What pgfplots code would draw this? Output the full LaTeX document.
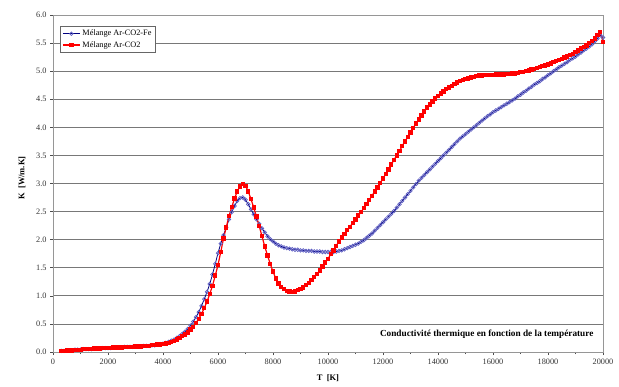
\documentclass[border=0pt]{standalone}
\usepackage{fontspec}
\setmainfont{Liberation Serif}
\usepackage{pgfplots}
\usepackage{pgfplotstable}
\pgfplotsset{compat=1.18}

\definecolor{navy}{RGB}{0,0,128}
\definecolor{markblue}{RGB}{95,95,195}
\definecolor{gridgray}{RGB}{120,120,120}
\definecolor{axgray}{RGB}{150,150,150}

% T [K], K Ar-CO2-Fe, K Ar-CO2  [W/m.K]
\pgfplotstableread{
T fe co2
300 0.02 0.02
400 0.02 0.02
500 0.03 0.03
600 0.03 0.03
700 0.03 0.03
800 0.04 0.04
900 0.04 0.04
1000 0.04 0.04
1100 0.05 0.05
1200 0.05 0.05
1300 0.05 0.05
1400 0.05 0.05
1500 0.06 0.06
1600 0.06 0.06
1700 0.06 0.06
1800 0.07 0.07
1900 0.07 0.07
2000 0.07 0.07
2100 0.07 0.07
2200 0.08 0.08
2300 0.08 0.08
2400 0.08 0.08
2500 0.08 0.08
2600 0.09 0.09
2700 0.09 0.09
2800 0.09 0.09
2900 0.09 0.09
3000 0.10 0.10
3100 0.10 0.10
3200 0.10 0.10
3300 0.11 0.11
3400 0.11 0.11
3500 0.11 0.11
3600 0.12 0.12
3700 0.12 0.12
3800 0.13 0.13
3900 0.14 0.13
4000 0.15 0.14
4100 0.16 0.15
4200 0.18 0.16
4300 0.20 0.18
4400 0.22 0.20
4500 0.25 0.22
4600 0.28 0.25
4700 0.32 0.28
4800 0.36 0.31
4900 0.41 0.35
5000 0.47 0.40
5100 0.54 0.45
5200 0.62 0.52
5300 0.71 0.59
5400 0.82 0.68
5500 0.94 0.78
5600 1.07 0.90
5700 1.21 1.03
5800 1.38 1.18
5900 1.57 1.36
6000 1.76 1.55
6100 1.93 1.78
6200 2.08 2.02
6300 2.22 2.22
6400 2.36 2.42
6500 2.49 2.58
6600 2.60 2.73
6700 2.69 2.86
6800 2.74 2.95
6900 2.75 2.99
7000 2.71 2.96
7100 2.63 2.86
7200 2.54 2.72
7300 2.45 2.57
7400 2.36 2.41
7500 2.28 2.24
7600 2.20 2.06
7700 2.13 1.88
7800 2.06 1.72
7900 2.01 1.57
8000 1.97 1.43
8100 1.93 1.31
8200 1.90 1.22
8300 1.88 1.16
8400 1.86 1.12
8500 1.85 1.09
8600 1.84 1.08
8700 1.83 1.07
8800 1.82 1.08
8900 1.82 1.10
9000 1.81 1.12
9100 1.81 1.15
9200 1.80 1.19
9300 1.80 1.23
9400 1.80 1.28
9500 1.79 1.33
9600 1.79 1.39
9700 1.79 1.45
9800 1.78 1.52
9900 1.78 1.59
10000 1.78 1.66
10100 1.78 1.74
10200 1.78 1.81
10300 1.79 1.89
10400 1.80 1.97
10500 1.81 2.04
10600 1.83 2.10
10700 1.85 2.17
10800 1.87 2.23
10900 1.89 2.30
11000 1.91 2.36
11100 1.93 2.43
11200 1.96 2.49
11300 1.99 2.56
11400 2.03 2.63
11500 2.07 2.71
11600 2.11 2.78
11700 2.16 2.86
11800 2.21 2.93
11900 2.26 3.01
12000 2.31 3.09
12100 2.36 3.17
12200 2.41 3.25
12300 2.46 3.34
12400 2.51 3.42
12500 2.57 3.50
12600 2.63 3.58
12700 2.69 3.67
12800 2.75 3.75
12900 2.81 3.83
13000 2.87 3.91
13100 2.93 3.99
13200 2.99 4.07
13300 3.05 4.14
13400 3.10 4.21
13500 3.15 4.28
13600 3.20 4.35
13700 3.25 4.41
13800 3.30 4.46
13900 3.35 4.51
14000 3.40 4.56
14100 3.45 4.60
14200 3.50 4.64
14300 3.55 4.68
14400 3.60 4.71
14500 3.65 4.74
14600 3.70 4.77
14700 3.75 4.80
14800 3.80 4.82
14900 3.84 4.84
15000 3.88 4.86
15100 3.92 4.87
15200 3.96 4.89
15300 4.00 4.90
15400 4.04 4.91
15500 4.08 4.92
15600 4.12 4.92
15700 4.16 4.93
15800 4.20 4.93
15900 4.23 4.93
16000 4.27 4.93
16100 4.30 4.94
16200 4.33 4.94
16300 4.36 4.94
16400 4.39 4.94
16500 4.42 4.95
16600 4.45 4.95
16700 4.48 4.96
16800 4.51 4.96
16900 4.55 4.97
17000 4.58 4.98
17100 4.62 4.99
17200 4.65 5.00
17300 4.69 5.01
17400 4.72 5.03
17500 4.76 5.04
17600 4.79 5.06
17700 4.82 5.07
17800 4.86 5.09
17900 4.89 5.10
18000 4.93 5.12
18100 4.96 5.14
18200 5.00 5.16
18300 5.03 5.18
18400 5.07 5.20
18500 5.10 5.22
18600 5.13 5.24
18700 5.16 5.26
18800 5.20 5.29
18900 5.23 5.31
19000 5.26 5.34
19100 5.30 5.37
19200 5.33 5.40
19300 5.37 5.43
19400 5.40 5.46
19500 5.44 5.50
19600 5.48 5.54
19700 5.53 5.58
19800 5.58 5.64
19900 5.64 5.70
20000 5.60 5.52
}\conductivite

\begin{document}
\begin{tikzpicture}[x=1bp,y=1bp]
\begin{axis}[
  at={(0,0)}, anchor=south west,
  scale only axis, width=550bp, height=337bp,
  xmin=0, xmax=20000, ymin=0, ymax=6,
  xtick={0,2000,4000,6000,8000,10000,12000,14000,16000,18000,20000},
  minor xtick={1000,3000,5000,7000,9000,11000,13000,15000,17000,19000},
  ytick={0,0.5,1,1.5,2,2.5,3,3.5,4,4.5,5,5.5,6},
  scaled x ticks=false, scaled y ticks=false,
  xtick pos=bottom, ytick pos=left,
  tick align=outside,
  major tick length=3bp, minor tick length=2bp,
  tick style={draw=black!70, line width=0.6bp},
  axis line style={draw=axgray, line width=0.9bp},
  ymajorgrids, grid style={draw=gridgray, line width=0.7bp},
  /pgf/number format/assume math mode=true,
  x tick label style={/pgf/number format/fixed, /pgf/number format/1000 sep={}},
  y tick label style={/pgf/number format/fixed, /pgf/number format/fixed zerofill, /pgf/number format/precision=1},
  ticklabel style={font=\fontsize{8.3}{9}\selectfont, text=black!80},
  xlabel={\textbf{T\ \ [K]}},
  ylabel={\textbf{K\ \ [W/m.K]}},
  label style={font=\fontsize{8.5}{10}\selectfont},
  xlabel style={at={(axis description cs:0.5,0)}, anchor=center, yshift=-26bp},
  ylabel style={at={(axis description cs:-0.0564,0.516)}, anchor=center},
  legend style={at={(rel axis cs:0.0127,0.968)}, anchor=north west,
    draw=black!60, line width=0.6bp, font=\fontsize{8.3}{9}\selectfont,
    inner sep=2bp, row sep=0bp},
  legend cell align=left,
  clip=false,
]
\addplot[navy, line width=0.8bp, mark=o, mark size=1.8bp,
  mark options={draw=markblue, fill=white, line width=0.7bp}]
  table[x=T, y=fe] {\conductivite};
\addlegendentry{Mélange Ar-CO2-Fe}
\addplot[red, line width=1.2bp, mark=square*, mark size=1.6bp,
  mark options={draw=red, fill=red}]
  table[x=T, y=co2] {\conductivite};
\addlegendentry{Mélange Ar-CO2}
\node[anchor=east, font=\bfseries\fontsize{9.3}{11}\selectfont]
  at (rel axis cs:0.989,0.053) {Conductivité thermique en fonction de la température};
\end{axis}
\pgfresetboundingbox
\path (-53bp,-35bp) rectangle (566bp,352bp);
\end{tikzpicture}
\end{document}
